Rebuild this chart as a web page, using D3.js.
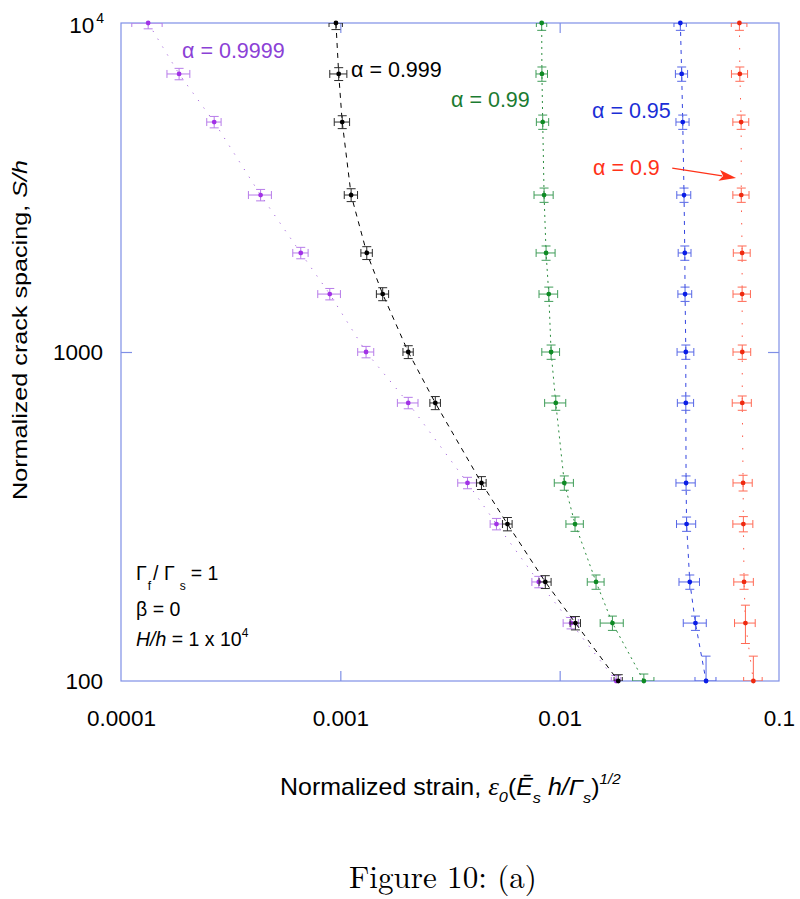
<!DOCTYPE html>
<html><head><meta charset="utf-8">
<script src="https://cdn.jsdelivr.net/npm/d3@7"></script>
<style>body{margin:0;background:#fff}svg{display:block}
.sans{font-family:"Liberation Sans",Arial,Helvetica,sans-serif}
.serif{font-family:"Liberation Serif","Times New Roman",Times,serif}
.cm{font-family:"Latin Modern Roman","CMU Serif","Liberation Serif",serif}
</style>
</head><body><svg id="c" width="800" height="899"></svg>
<script>
// ---------- data ----------
const spacing = [10000,7000,5000,3000,2000,1500,1000,700,400,300,200,150,100];

const strainA9999 = [1.33e-4,1.84e-4,2.66e-4,4.33e-4,6.6e-4,8.95e-4,1.31e-3,2.04e-3,3.8e-3,5.15e-3,8.03e-3,1.127e-2,1.81e-2];
const strainA999  = [9.55e-4,9.83e-4,1.02e-3,1.12e-3,1.32e-3,1.56e-3,2.04e-3,2.71e-3,4.4e-3,5.78e-3,8.6e-3,1.18e-2,1.85e-2];
const strainA99   = [8.28e-3,8.3e-3,8.37e-3,8.49e-3,8.67e-3,8.92e-3,9.14e-3,9.6e-3,1.05e-2,1.175e-2,1.465e-2,1.74e-2,2.42e-2];
const strainA95   = [3.55e-2,3.6e-2,3.64e-2,3.69e-2,3.72e-2,3.73e-2,3.76e-2,3.76e-2,3.77e-2,3.79e-2,3.92e-2,4.16e-2,4.65e-2];
const strainA90   = [6.6e-2,6.63e-2,6.72e-2,6.73e-2,6.79e-2,6.79e-2,6.8e-2,6.8e-2,6.86e-2,6.88e-2,6.93e-2,7.03e-2,7.64e-2];

const xErrA9999 = [2.1e-5,2.2e-5,2.0e-5,5.2e-5,5.3e-5,1.06e-4,1.1e-4,2.2e-4,3.7e-4,3.3e-4,5.6e-4,9e-4,9e-4];
const xErrA999  = [6.7e-5,8.8e-5,8.2e-5,7.8e-5,7.9e-5,1.0e-4,1.1e-4,1.5e-4,2.2e-4,2.9e-4,5.4e-4,6.4e-4,8e-4];
const xErrA99   = [4.5e-4,5e-4,5.4e-4,8.5e-4,8.6e-4,8.7e-4,8.5e-4,1.06e-3,1.05e-3,1.07e-3,1.29e-3,2.1e-3,2.7e-3];
const xErrA95   = [2.3e-3,2.3e-3,2.5e-3,2.7e-3,2.5e-3,2.7e-3,3.3e-3,3.2e-3,3.8e-3,3.8e-3,4.2e-3,5.0e-3,5.1e-3];
const xErrA90   = [5.4e-3,5.6e-3,5.6e-3,5.7e-3,6.0e-3,6.2e-3,6.3e-3,6.8e-3,6.9e-3,7.2e-3,7.1e-3,7.6e-3,7.4e-3];

const yErrA9999 = [400,280,200,120,80,60,40,28,16,12,8,6,4];
const yErrA999  = [450,315,225,135,90,68,45,32,18,14,9,7,4.5];
const yErrA99   = [500,350,250,150,100,75,50,35,20,15,10,7.5,5];
const yErrA95   = [500,350,250,150,100,75,50,35,20,15,10,7.5,19];
const yErrA90   = [500,350,250,150,100,75,50,35,22,16,10,20,19];

const seriesNames = ["α = 0.9999","α = 0.999","α = 0.99","α = 0.95","α = 0.9"];
const xTicks = [0.0001,0.001,0.01,0.1];
const xTickLabels = ["0.0001","0.001","0.01","0.1"];
const yTicks = [100,1000,10000];

// ---------- styles ----------
const styles = [
  {x:strainA9999, xe:xErrA9999, ye:yErrA9999, dot:"#a232e6", err:"#b77ce9", line:"#a566dc", dash:"1.2,8", text:"#8b41d6", lx:182, ly:58},
  {x:strainA999,  xe:xErrA999,  ye:yErrA999,  dot:"#000000", err:"#2a2a2a", line:"#000000", dash:"5,5",   text:"#000000", lx:351, ly:77},
  {x:strainA99,   xe:xErrA99,   ye:yErrA99,   dot:"#0e8a24", err:"#3f9c58", line:"#2b8c3e", dash:"2,4",   text:"#1b7b31", lx:451, ly:107},
  {x:strainA95,   xe:xErrA95,   ye:yErrA95,   dot:"#0a1de6", err:"#5666e6", line:"#3344e0", dash:"4,5",   text:"#1b2ed6", lx:592, ly:118},
  {x:strainA90,   xe:xErrA90,   ye:yErrA90,   dot:"#ee2a10", err:"#ff6a55", line:"#ff5a48", dash:"1.5,11",text:"#ff3218", lx:593, ly:175}
];

const svg = d3.select("#c");
const L=121, R=779, T=23, B=681;
const x = d3.scaleLog().domain([1e-4,0.1]).range([L,R]);
const y = d3.scaleLog().domain([100,1e4]).range([B,T]);
const frameColor = "#7f8fe6";

svg.append("clipPath").attr("id","clip").append("rect")
  .attr("x",L).attr("y",T).attr("width",R-L).attr("height",B-T);

// frame
svg.append("rect").attr("x",L).attr("y",T).attr("width",R-L).attr("height",B-T)
  .attr("fill","none").attr("stroke",frameColor).attr("stroke-width",1.2);

// inward ticks
function tickAxis(axis, tr){
  const g = svg.append("g").attr("transform",tr).call(axis);
  g.select(".domain").remove();
  g.selectAll("text").remove();
  g.selectAll("line").attr("stroke",frameColor).attr("stroke-width",1.2);
}
const innerX = [0.001,0.01], innerY=[1000];
tickAxis(d3.axisBottom(x).tickValues(innerX).tickSize(-10), `translate(0,${B})`);
tickAxis(d3.axisTop(x).tickValues(innerX).tickSize(-10), `translate(0,${T})`);
tickAxis(d3.axisLeft(y).tickValues(innerY).tickSize(-11), `translate(${L},0)`);
tickAxis(d3.axisRight(y).tickValues(innerY).tickSize(-11), `translate(${R},0)`);

// tick labels
const gx = svg.append("g").attr("transform",`translate(0,${B})`)
  .call(d3.axisBottom(x).tickValues(xTicks).tickSize(0).tickPadding(29)
    .tickFormat((d,i)=>xTickLabels[i]));
gx.select(".domain").remove();
gx.attr("font-family",null).attr("font-size",null).attr("class","sans");
gx.selectAll("text").style("font-size","22.5px").attr("fill","#000");

const gy = svg.append("g").attr("transform",`translate(${L},0)`)
  .call(d3.axisLeft(y).tickValues(yTicks).tickSize(0).tickPadding(18)
    .tickFormat(d=> d===10000 ? "10" : String(d)));
gy.select(".domain").remove();
gy.attr("font-family",null).attr("font-size",null).attr("class","sans");
gy.selectAll("text").style("font-size","22.5px").attr("fill","#000");
gy.selectAll(".tick").filter(d=>d===10000).select("text").each(function(){
  const t = d3.select(this);
  t.text(null).attr("dy",null).attr("y",9).attr("x",-17);
  t.append("tspan").text("10");
  t.append("tspan").style("font-size","14px").attr("dy",-10).attr("dx",2).text("4");
});

// series
const plot = svg.append("g");
const line = d3.line().x(d=>x(d.x)).y(d=>y(d.y));
styles.forEach((s,si)=>{
  const pts = spacing.map((v,i)=>({y:v, x:s.x[i], xe:s.xe[i], ye:s.ye[i]}));
  const cg = plot.append("g").attr("clip-path","url(#clip)");
  cg.append("path").datum(pts).attr("d",line).attr("fill","none")
    .attr("stroke",s.line).attr("stroke-width",1).attr("stroke-dasharray",s.dash);
  const eg = cg.append("g").attr("stroke",s.err).attr("stroke-width",1).attr("fill","none");
  pts.forEach(p=>{
    const px=x(p.x), py=y(p.y);
    const x0=x(p.x-p.xe), x1=x(p.x+p.xe);
    const y0=y(p.y-p.ye), y1=y(p.y+p.ye);
    eg.append("line").attr("x1",x0).attr("x2",x1).attr("y1",py).attr("y2",py);
    eg.append("line").attr("x1",x0).attr("x2",x0).attr("y1",py-4).attr("y2",py+4);
    eg.append("line").attr("x1",x1).attr("x2",x1).attr("y1",py-4).attr("y2",py+4);
    eg.append("line").attr("x1",px).attr("x2",px).attr("y1",y0).attr("y2",y1);
    eg.append("line").attr("x1",px-4.5).attr("x2",px+4.5).attr("y1",y0).attr("y2",y0);
    eg.append("line").attr("x1",px-4.5).attr("x2",px+4.5).attr("y1",y1).attr("y2",y1);
  });
  plot.append("g").selectAll("circle").data(pts).join("circle")
    .attr("cx",d=>x(d.x)).attr("cy",d=>y(d.y)).attr("r",2.4).attr("fill",s.dot);
  svg.append("text").attr("class","sans").attr("x",s.lx).attr("y",s.ly)
    .style("font-size","21.5px").attr("fill",s.text).text(seriesNames[si]);
});

// arrow for alpha = 0.9
const arrowStart = {x:0.0326, y:3620}, arrowTip = {x:0.0637, y:3380};
{
  const ax0=x(arrowStart.x), ay0=y(arrowStart.y), ax1=x(arrowTip.x), ay1=y(arrowTip.y);
  const ang=Math.atan2(ay1-ay0, ax1-ax0), len=17, w=5.5;
  const bx=ax1-len*Math.cos(ang), by=ay1-len*Math.sin(ang);
  svg.append("line").attr("x1",ax0).attr("y1",ay0).attr("x2",bx+3*Math.cos(ang)).attr("y2",by+3*Math.sin(ang))
    .attr("stroke","#ff3218").attr("stroke-width",1.2);
  const nx=-Math.sin(ang), ny=Math.cos(ang);
  svg.append("path").attr("d",`M${ax1},${ay1}L${bx+w*nx},${by+w*ny}L${bx+4*Math.cos(ang)},${by+4*Math.sin(ang)}L${bx-w*nx},${by-w*ny}Z`)
    .attr("fill","#ff3218");
}

// parameter annotations
{
  const t1 = svg.append("text").attr("class","sans").attr("x",136).attr("y",580).style("font-size","19.5px");
  t1.append("tspan").text("Γ");
  t1.append("tspan").style("font-size","12px").attr("dy",10).attr("dx",1).text("f");
  t1.append("tspan").attr("dy",-10).attr("dx",2).text("/ Γ");
  t1.append("tspan").style("font-size","12px").attr("dy",10).attr("dx",5).text("s");
  t1.append("tspan").attr("dy",-10).attr("dx",5).text("= 1");
  svg.append("text").attr("class","sans").attr("x",136).attr("y",616).style("font-size","19.5px").text("β = 0");
  const t3 = svg.append("text").attr("class","sans").attr("x",136).attr("y",646).style("font-size","19.5px");
  t3.append("tspan").style("font-style","italic").text("H/h");
  t3.append("tspan").text(" = 1 x 10");
  t3.append("tspan").style("font-size","12px").attr("dy",-9).text("4");
}

// y axis title
{
  const t = svg.append("text").attr("class","sans").attr("transform","translate(27,330) rotate(-90)")
    .attr("text-anchor","middle").style("font-size","21px")
    .attr("textLength",340).attr("lengthAdjust","spacingAndGlyphs");
  t.append("tspan").text("Normalized crack spacing, ");
  t.append("tspan").style("font-style","italic").text("S/h");
}

// x axis title
{
  const g = svg.append("g");
  const t = g.append("text").attr("class","sans").attr("x",0).attr("y",0).style("font-size","23px");
  t.append("tspan").text("Normalized strain, ");
  t.append("tspan").attr("class","serif").style("font-style","italic").style("font-size","25px").text("ε");
  t.append("tspan").style("font-style","italic").style("font-size","15px").attr("dy",7).text("0");
  t.append("tspan").attr("dy",-7).text("(");
  t.append("tspan").style("font-style","italic").text("Ē");
  t.append("tspan").style("font-style","italic").style("font-size","15px").attr("dy",8).text("s");
  t.append("tspan").style("font-style","italic").attr("dy",-8).text(" h/Γ");
  t.append("tspan").style("font-style","italic").style("font-size","15px").attr("dy",8).text("s");
  t.append("tspan").attr("dy",-8).text(")");
  t.append("tspan").style("font-style","italic").style("font-size","14px").attr("dy",-11).text("1/2");
  const bb = t.node().getBBox();
  const sx = 341/bb.width;
  g.attr("transform",`translate(280,795) scale(${sx},1) translate(${-bb.x},0)`);
}

// caption
{
  const g = svg.append("g");
  const t = g.append("text").attr("class","cm").style("font-size","31px").text("Figure 10: (a)");
  const bb = t.node().getBBox();
  const sx = 188/bb.width;
  g.attr("transform",`translate(349,888) scale(${sx},1) translate(${-bb.x},0)`);
}
</script></body></html>
